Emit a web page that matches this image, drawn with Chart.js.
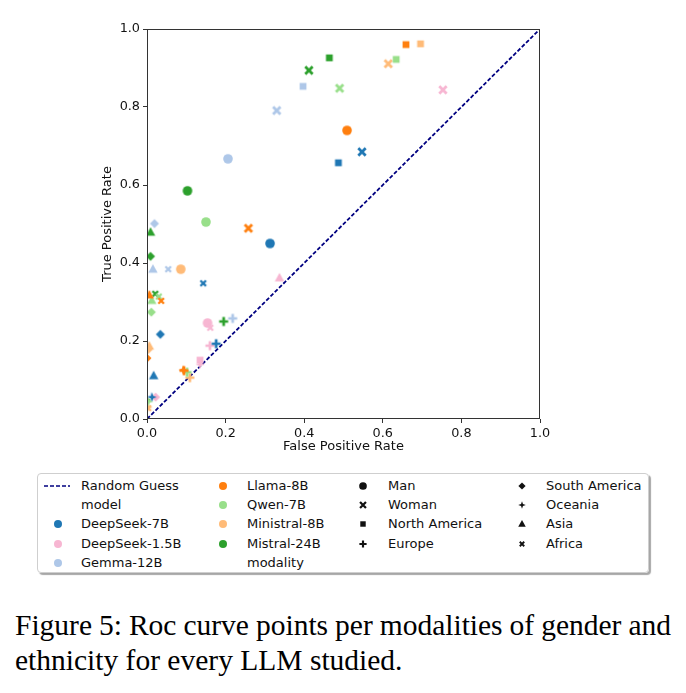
<!DOCTYPE html>
<html>
<head>
<meta charset="utf-8">
<script src="https://cdn.jsdelivr.net/npm/chart.js@4.4.1/dist/chart.umd.min.js"></script>
<style>
  body { margin: 0; background: #fff; width: 686px; height: 693px; position: relative; overflow: hidden; }
  #roc-chart { position: absolute; left: 0; top: 0; }
  #legend {
    position: absolute; left: 37px; top: 473px; width: 612px; height: 100px;
    border: 1px solid #cfcfcf; border-radius: 4px; box-sizing: border-box;
    box-shadow: 2px 2px 1px rgba(0,0,0,0.35);
    font-family: "DejaVu Sans", sans-serif; font-size: 13px; color: #111;
  }
  .item { position: absolute; white-space: nowrap; line-height: 16px; }
  .mark { position: absolute; }
  #caption {
    position: absolute; left: 15px; top: 608px; width: 656px;
    font-family: "Liberation Serif", "Times New Roman", serif; font-size: 29.5px; line-height: 35px; color: #000;
  }
  #caption .l1 { white-space: nowrap; word-spacing: -1.5px; text-align: justify; text-align-last: justify; }
  #caption .l2 { white-space: nowrap; }
</style>
</head>
<body>
<canvas id="roc-chart" width="686" height="460"></canvas>
<div id="legend"></div>
<div id="caption"><div class="l1">Figure 5: Roc curve points per modalities of gender and</div><div class="l2">ethnicity for every LLM studied.</div></div>
<script>
// modality order: Man, Woman, North America, Europe, South America, Oceania, Asia, Africa
const models = ['DeepSeek-7B', 'DeepSeek-1.5B', 'Gemma-12B', 'Llama-8B', 'Qwen-7B', 'Ministral-8B', 'Mistral-24B'],
      modalities = ['Man', 'Woman', 'North America', 'Europe', 'South America', 'Oceania', 'Asia', 'Africa'],
      colors = ['#1f77b4', '#f7b6d2', '#aec7e8', '#ff7f0e', '#98df8a', '#ffbb78', '#2ca02c'],
      shapes = ['o', 'X', 's', 'P', 'D', 'star4', '^', 'x'];

const fprDeepSeek7 = [0.313, 0.547, 0.487, 0.176, 0.034, 0.013, 0.017, 0.143],
      tprDeepSeek7 = [0.450, 0.685, 0.657, 0.193, 0.217, 0.056, 0.111, 0.348];
const fprDeepSeek15 = [0.154, 0.753, 0.135, 0.160, 0.022, 0.135, 0.337, 0.161],
      tprDeepSeek15 = [0.246, 0.844, 0.151, 0.188, 0.056, 0.140, 0.362, 0.234];
const fprGemma = [0.206, 0.330, 0.397, 0.218, 0.019, 0.011, 0.015, 0.054],
      tprGemma = [0.667, 0.791, 0.853, 0.258, 0.501, 0.058, 0.384, 0.384];
const fprLlama = [0.509, 0.258, 0.659, 0.094, 0.000, 0.092, 0.006, 0.036],
      tprLlama = [0.740, 0.489, 0.960, 0.124, 0.156, 0.126, 0.318, 0.303];
const fprQwen = [0.150, 0.490, 0.634, 0.102, 0.011, 0.004, 0.012, 0.030],
      tprQwen = [0.505, 0.848, 0.922, 0.120, 0.274, 0.045, 0.304, 0.314];
const fprMinistral = [0.086, 0.614, 0.696, 0.109, 0.003, 0.002, 0.006, 0.003],
      tprMinistral = [0.384, 0.911, 0.962, 0.106, 0.178, 0.030, 0.187, 0.028];
const fprMistral = [0.103, 0.412, 0.464, 0.195, 0.009, 0.000, 0.009, 0.021],
      tprMistral = [0.585, 0.894, 0.926, 0.250, 0.417, 0.049, 0.479, 0.321];

const fprs = [fprDeepSeek7, fprDeepSeek15, fprGemma, fprLlama, fprQwen, fprMinistral, fprMistral],
      tprs = [tprDeepSeek7, tprDeepSeek15, tprGemma, tprLlama, tprQwen, tprMinistral, tprMistral];

const ticks = [0, 0.2, 0.4, 0.6, 0.8, 1.0];

const drawShape = (g, shape, color) => {
  g.fillStyle = color
  g.strokeStyle = color
  g.lineCap = 'butt'
  const poly = (pts) => {
    g.beginPath()
    pts.forEach((p, i) => i ? g.lineTo(p[0], p[1]) : g.moveTo(p[0], p[1]))
    g.closePath()
    g.fill()
  }
  const lines = (w, segs) => {
    g.lineWidth = w
    g.beginPath()
    segs.forEach((s) => { g.moveTo(s[0], s[1]); g.lineTo(s[2], s[3]) })
    g.stroke()
  }
  switch (shape) {
    case 'o': g.beginPath(); g.arc(0, 0, 4.8, 0, Math.PI * 2); g.fill(); break
    case 'X': lines(2.8, [[-3.7, -3.7, 3.7, 3.7], [-3.7, 3.7, 3.7, -3.7]]); break
    case 's': g.fillRect(-3.4, -3.4, 6.8, 6.8); break
    case 'P': lines(2.7, [[-4.5, 0, 4.5, 0], [0, -4.5, 0, 4.5]]); break
    case 'D': poly([[0, -4.5], [4.5, 0], [0, 4.5], [-4.5, 0]]); break
    case 'star4': poly([[0, -4.7], [1.2, -1.2], [4.7, 0], [1.2, 1.2], [0, 4.7], [-1.2, 1.2], [-4.7, 0], [-1.2, -1.2]]); break
    case '^': poly([[0, -4.9], [4.7, 3.4], [-4.7, 3.4]]); break
    case 'x': lines(2.3, [[-2.8, -2.8, 2.8, 2.8], [-2.8, 2.8, 2.8, -2.8]]); break
  }
}

const markerCanvas = (shape, color) => {
  const c = document.createElement('canvas')
  c.width = 14
  c.height = 14
  const g = c.getContext('2d')
  g.translate(7, 7)
  drawShape(g, shape, color)
  return c
}

const datasets = models.map((name, m) => ({
  type: 'scatter',
  label: name,
  data: fprs[m].map((x, i) => ({ x: x, y: tprs[m][i] })),
  pointStyle: shapes.map((s) => markerCanvas(s, colors[m])),
  pointRadius: 5,
  order: 1
}))

datasets.push({
  type: 'line',
  label: 'Random Guess',
  data: [{ x: 0, y: 0 }, { x: 1, y: 1 }],
  borderColor: '#000080',
  borderWidth: 1.8,
  borderDash: [4, 2],
  pointRadius: 0,
  fill: false,
  order: 2
})

const frame = {
  id: 'frame',
  afterDraw: (chart) => {
    const { ctx, chartArea: a } = chart
    ctx.save()
    ctx.strokeStyle = '#333'
    ctx.lineWidth = 1
    ctx.strokeRect(a.left + 0.5, a.top + 0.5, a.right - a.left - 1, a.bottom - a.top - 1)
    ctx.fillStyle = '#111'
    ctx.font = '13px "DejaVu Sans"'
    ctx.textAlign = 'center'
    ctx.textBaseline = 'middle'
    ctx.fillText('False Positive Rate', (a.left + a.right) / 2, 447)
    ctx.translate(108, (a.top + a.bottom) / 2)
    ctx.rotate(-Math.PI / 2)
    ctx.fillText('True Positive Rate', 0, 0)
    ctx.restore()
  }
}

const axis = (extra) => Object.assign({
  type: 'linear',
  min: 0,
  max: 1,
  afterBuildTicks: (s) => { s.ticks = ticks.map((v) => ({ value: v })) },
  ticks: {
    color: '#111',
    font: { family: 'DejaVu Sans', size: 12.8 },
    padding: 3,
    callback: (v) => v.toFixed(1)
  },
  grid: { drawOnChartArea: false, drawTicks: true, tickLength: 4, color: '#333' },
  border: { display: false }
}, extra)

new Chart(document.getElementById('roc-chart').getContext('2d'), {
  data: { datasets: datasets },
  options: {
    responsive: false,
    animation: false,
    devicePixelRatio: 1,
    layout: { padding: { top: 29, right: 146, left: 0, bottom: 0 } },
    plugins: { legend: { display: false }, tooltip: { enabled: false } },
    scales: {
      x: axis({ position: 'bottom', afterFit: (s) => { s.height = 41 } }),
      y: axis({ position: 'left', afterFit: (s) => { s.width = 147 } })
    }
  },
  plugins: [frame]
})

// legend, column-major, 5 rows
const legendCols = [
  [{ t: 'Random Guess', dash: true }, { t: 'model' }].concat(models.slice(0, 3).map((n, i) => ({ t: n, shape: 'o', color: colors[i] }))),
  models.slice(3).map((n, i) => ({ t: n, shape: 'o', color: colors[i + 3] })).concat([{ t: 'modality' }]),
  modalities.slice(0, 4).map((n, i) => ({ t: n, shape: shapes[i], color: '#111' })),
  modalities.slice(4).map((n, i) => ({ t: n, shape: shapes[i + 4], color: '#111' }))
]
const markX = [20, 185, 325, 484],
      textX = [43, 209, 350, 508],
      rowY = [12, 31, 50, 69.5, 88.5];
const legend = document.getElementById('legend')
legendCols.forEach((col, c) => {
  col.forEach((it, r) => {
    const d = document.createElement('div')
    d.className = 'item'
    d.style.left = textX[c] + 'px'
    d.style.top = (rowY[r] - 8) + 'px'
    d.textContent = it.t
    legend.appendChild(d)
    if (it.dash) {
      const k = document.createElement('canvas')
      k.width = 28; k.height = 4
      k.className = 'mark'
      k.style.left = (markX[c] - 15) + 'px'
      k.style.top = (rowY[r] - 2) + 'px'
      const g = k.getContext('2d')
      g.strokeStyle = '#000080'; g.lineWidth = 1.6; g.setLineDash([4, 2])
      g.beginPath(); g.moveTo(1, 2); g.lineTo(27, 2); g.stroke()
      legend.appendChild(k)
    } else if (it.shape) {
      const k = markerCanvas(it.shape, it.color)
      const g = k.getContext('2d')
      g.clearRect(-7, -7, 14, 14)
      if (c < 2) {
        g.fillStyle = it.color
        g.beginPath(); g.arc(0, 0, 4, 0, Math.PI * 2); g.fill()
      } else {
        g.scale(0.8, 0.8)
        drawShape(g, it.shape, it.color)
      }
      k.className = 'mark'
      k.style.left = (markX[c] - 7) + 'px'
      k.style.top = (rowY[r] - 7) + 'px'
      legend.appendChild(k)
    }
  })
})
</script>
</body>
</html>
